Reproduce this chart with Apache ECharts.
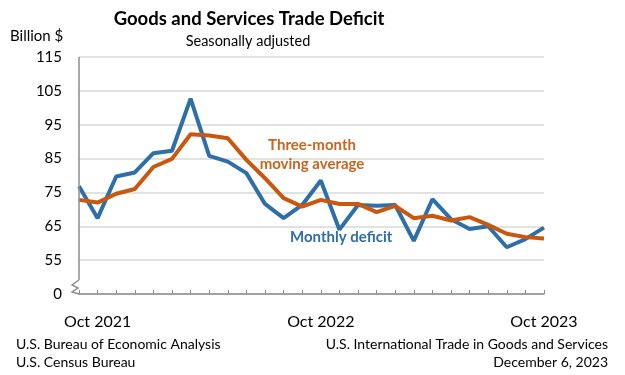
<!DOCTYPE html>
<html>
<head>
<meta charset="utf-8">
<script src="https://cdn.jsdelivr.net/npm/echarts@6/dist/echarts.min.js"></script>
<style>
html,body{margin:0;padding:0;background:#fff;}
#chart{width:625px;height:375px;}
</style>
</head>
<body>
<div id="chart"></div>
<script>
var months = ['Sep 2021','Oct 2021','Nov 2021','Dec 2021','Jan 2022','Feb 2022','Mar 2022','Apr 2022','May 2022','Jun 2022','Jul 2022','Aug 2022','Sep 2022','Oct 2022','Nov 2022','Dec 2022','Jan 2023','Feb 2023','Mar 2023','Apr 2023','May 2023','Jun 2023','Jul 2023','Aug 2023','Sep 2023','Oct 2023'];
var monthlyDeficit = [76.8,67.4,79.7,80.9,86.6,87.3,102.7,85.8,84.1,80.7,71.6,67.4,71.3,78.5,64.0,71.3,71.1,71.3,60.7,73.0,67.1,64.2,65.0,58.8,61.2,64.6];
var threeMonthAvg = [72.8,72.0,74.6,76.0,82.5,84.9,92.2,91.8,91.0,84.6,79.2,73.3,70.8,72.8,71.6,71.6,69.2,71.0,67.4,68.1,66.7,67.7,65.4,62.8,61.8,61.4];
var yTicks = [45,55,65,75,85,95,105,115];
var yTickLabels = ['0','55','65','75','85','95','105','115'];

(function(){
var FONT = 'Lato';
var chart = echarts.init(document.getElementById('chart'));
var option = {
  backgroundColor:'#ffffff',
  animation:false,
  textStyle:{fontFamily:FONT},
  title:[
    {text:'Goods and Services Trade Deficit', left:244, textAlign:'center', top:5,
     textStyle:{fontFamily:FONT, fontWeight:'bold', fontSize:18.5, color:'#000'}},
    {text:'Seasonally adjusted', left:243, textAlign:'center', top:29,
     textStyle:{fontFamily:FONT, fontWeight:'normal', fontSize:14.5, color:'#000'}}
  ],
  grid:{left:79, right:81, top:57, bottom:81, containLabel:false},
  xAxis:{
    type:'category', data:months, boundaryGap:false,
    axisLine:{show:true, lineStyle:{color:'#8c8c8c', width:1.5}},
    axisTick:{show:true, inside:true, length:4, interval:0, lineStyle:{color:'#8c8c8c', width:1}},
    axisLabel:{
      interval:function(i, v){ return v.indexOf('Oct') === 0; },
      fontFamily:FONT, fontSize:16, color:'#000', margin:20
    },
    splitLine:{show:false}
  },
  yAxis:{
    type:'value', min:45, max:115, interval:10,
    axisLine:{show:false},
    axisTick:{show:false},
    axisLabel:{
      formatter:function(v){ var i = yTicks.indexOf(v); return i>=0 ? yTickLabels[i] : ''; },
      fontFamily:FONT, fontSize:15, color:'#000', margin:17
    },
    splitLine:{show:true, lineStyle:{color:'#d9d9d9', width:1.5}}
  },
  series:[
    {name:'Monthly deficit', type:'line', data:monthlyDeficit, symbol:'none',
     lineStyle:{color:'#2e6faa', width:4}, z:2},
    {name:'Three-month moving average', type:'line', data:threeMonthAvg, symbol:'none',
     lineStyle:{color:'#c9580e', width:4}, z:3}
  ]
};
chart.setOption(option);

var yTop = chart.convertToPixel({yAxisIndex:0}, 115);
var yBot = chart.convertToPixel({yAxisIndex:0}, 45);
var xAx = chart.convertToPixel({xAxisIndex:0}, 0);
chart.setOption({
  graphic:[
    {type:'line', shape:{x1:xAx, y1:yTop, x2:xAx, y2:yBot-14}, style:{stroke:'#8c8c8c', lineWidth:1.5}, z:5},
    {type:'polyline', shape:{points:[[xAx,yBot-14],[xAx-7,yBot-9],[xAx-1,yBot-6],[xAx-7,yBot-2],[xAx,yBot]]}, style:{stroke:'#8c8c8c', lineWidth:1.5, fill:null}, z:5},
    {type:'text', x:10, y:29, style:{text:'Billion $', font:'15px '+FONT, fill:'#000'}},
    {type:'text', x:312, y:136, style:{text:'Three-month\nmoving average', font:'bold 15px '+FONT, fill:'#c9651f', textAlign:'center', lineHeight:19}},
    {type:'text', x:290, y:230, style:{text:'Monthly deficit', font:'bold 15px '+FONT, fill:'#2e6da8'}},
    {type:'text', x:16, y:337, style:{text:'U.S. Bureau of Economic Analysis', font:'14px '+FONT, fill:'#000'}},
    {type:'text', x:16, y:355, style:{text:'U.S. Census Bureau', font:'14px '+FONT, fill:'#000'}},
    {type:'text', x:608, y:337, style:{text:'U.S. International Trade in Goods and Services', font:'14px '+FONT, fill:'#000', align:'right'}},
    {type:'text', x:608, y:355, style:{text:'December 6, 2023', font:'14px '+FONT, fill:'#000', align:'right'}}
  ]
});
})();
</script>
</body>
</html>
